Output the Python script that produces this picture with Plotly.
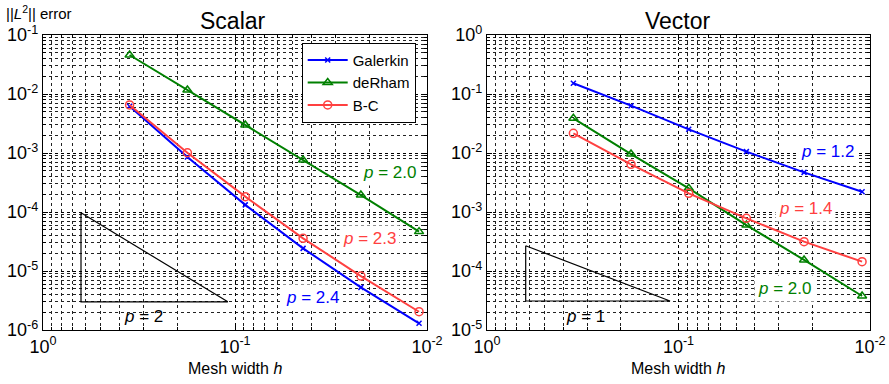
import plotly.graph_objects as go

# Mesh widths
h = [0.354, 0.177, 0.0884, 0.0442, 0.0221, 0.0110]

# Scalar errors
scalar_galerkin = [6.2e-3, 8.55e-4, 1.32e-4, 2.42e-5, 5.28e-6, 1.30e-6]
scalar_derham = [4.58e-2, 1.17e-2, 2.98e-3, 7.6e-4, 1.94e-4, 4.65e-5]
scalar_bc = [6.52e-3, 1.01e-3, 1.82e-4, 3.58e-5, 8.2e-6, 2.04e-6]

# Vector errors
vector_galerkin = [0.152, 0.0634, 0.0252, 0.01054, 4.7e-3, 2.21e-3]
vector_derham = [0.0387, 9.6e-3, 2.52e-3, 6.0e-4, 1.54e-4, 3.77e-5]
vector_bc = [0.0216, 6.43e-3, 2.07e-3, 7.8e-4, 3.14e-4, 1.44e-4]

# Slope triangles (x, y vertices)
tri_scalar_x = [0.634, 0.634, 0.109, 0.634]
tri_scalar_y = [9.7e-5, 3.0e-6, 3.0e-6, 9.7e-5]
tri_vector_x = [0.628, 0.628, 0.1107, 0.628]
tri_vector_y = [2.68e-4, 3.1e-5, 3.1e-5, 2.68e-4]

# Tick labels
x_tickvals = [1, 0.1, 0.01]
x_ticktext = ["10<sup>0</sup>", "10<sup>-1</sup>", "10<sup>-2</sup>"]
y1_tickvals = [1e-6, 1e-5, 1e-4, 1e-3, 1e-2, 1e-1]
y1_ticktext = ["10<sup>-6</sup>", "10<sup>-5</sup>", "10<sup>-4</sup>",
               "10<sup>-3</sup>", "10<sup>-2</sup>", "10<sup>-1</sup>"]
y2_tickvals = [1e-5, 1e-4, 1e-3, 1e-2, 1e-1, 1]
y2_ticktext = ["10<sup>-5</sup>", "10<sup>-4</sup>", "10<sup>-3</sup>",
               "10<sup>-2</sup>", "10<sup>-1</sup>", "10<sup>0</sup>"]

series_names = ["Galerkin", "deRham", "B-C"]
colors = ["#0000ff", "#008000", "#ff4040"]
symbols = ["x-thin", "triangle-up-open", "circle-open"]
msizes = [5, 8, 8]

FONT = "Liberation Sans, Arial, sans-serif"
W, H = 889, 384

fig = go.Figure()

scalar = [scalar_galerkin, scalar_derham, scalar_bc]
vector = [vector_galerkin, vector_derham, vector_bc]

for i in range(3):
    fig.add_trace(go.Scatter(
        x=h, y=scalar[i], mode="lines+markers", name=series_names[i],
        line=dict(color=colors[i], width=2),
        marker=dict(symbol=symbols[i], size=msizes[i], color=colors[i],
                    line=dict(color=colors[i], width=1.5)),
        xaxis="x", yaxis="y", showlegend=True))
for i in range(3):
    fig.add_trace(go.Scatter(
        x=h, y=vector[i], mode="lines+markers", name=series_names[i],
        line=dict(color=colors[i], width=2),
        marker=dict(symbol=symbols[i], size=msizes[i], color=colors[i],
                    line=dict(color=colors[i], width=1.5)),
        xaxis="x2", yaxis="y2", showlegend=False))

fig.add_trace(go.Scatter(x=tri_scalar_x, y=tri_scalar_y, mode="lines",
                         line=dict(color="black", width=1.2), showlegend=False,
                         xaxis="x", yaxis="y", hoverinfo="skip"))
fig.add_trace(go.Scatter(x=tri_vector_x, y=tri_vector_y, mode="lines",
                         line=dict(color="black", width=1.2), showlegend=False,
                         xaxis="x2", yaxis="y2", hoverinfo="skip"))

common = dict(
    type="log", automargin=False, tickmode="array",
    ticks="inside", ticklen=5, tickcolor="black", mirror="allticks",
    showline=True, linecolor="black", linewidth=1.2,
    showgrid=True, gridcolor="black", griddash="dot", gridwidth=0.8,
    minor=dict(dtick="D1", showgrid=True, gridcolor="#222", griddash="dot",
               gridwidth=0.6, ticks="inside", ticklen=3, tickcolor="black"),
    tickfont=dict(size=18, color="black", family=FONT),
    zeroline=False,
)

ydom = [54 / H, 349 / H]
fig.update_layout(
    width=W, height=H,
    margin=dict(l=0, r=0, t=0, b=0, autoexpand=False),
    paper_bgcolor="white", plot_bgcolor="white",
    font=dict(family=FONT, color="black"),
    xaxis=dict(common, domain=[43 / W, 427 / W], anchor="y", range=[0, -2],
               tickvals=x_tickvals, ticktext=x_ticktext),
    yaxis=dict(common, domain=ydom, anchor="x", range=[-6, -1],
               tickvals=y1_tickvals, ticktext=y1_ticktext),
    xaxis2=dict(common, domain=[487 / W, 870 / W], anchor="y2", range=[0, -2],
                tickvals=x_tickvals, ticktext=x_ticktext),
    yaxis2=dict(common, domain=ydom, anchor="x2", range=[-5, 0],
                tickvals=y2_tickvals, ticktext=y2_ticktext),
    legend=dict(x=415.7 / W, y=1 - 42.7 / H, xanchor="right", yanchor="top",
                bgcolor="white", bordercolor="black", borderwidth=1,
                font=dict(size=15, color="black", family=FONT),
                tracegroupgap=0, itemwidth=40),
)

def txt(text, xpix, ypix, size, color="black", xanchor="center", bg=None):
    return dict(text=text, x=xpix / W, y=1 - ypix / H, xref="paper", yref="paper",
                xanchor=xanchor, yanchor="middle", showarrow=False,
                font=dict(size=size, family=FONT, color=color),
                bgcolor=bg, borderpad=3 if bg else 1)

annotations = [
    txt("Scalar", 233, 21, 23),
    txt("Vector", 678, 21, 23),
    txt("||<i>L</i><sup>2</sup>|| error", 4, 13, 15, xanchor="left"),
    txt("Mesh width <i>h</i>", 235, 368, 16),
    txt("Mesh width <i>h</i>", 678, 368, 16),
    txt("<i>p</i> = 2.0", 389, 172, 17, "#008000", bg="white"),
    txt("<i>p</i> = 2.3", 369, 238, 17, "#ff4040", bg="white"),
    txt("<i>p</i> = 2.4", 312, 297, 17, "#0000ff", bg="white"),
    txt("<i>p</i> = 2", 143, 316, 17),
    txt("<i>p</i> = 1.2", 827, 151, 17, "#0000ff", bg="white"),
    txt("<i>p</i> = 1.4", 805, 208, 17, "#ff4040", bg="white"),
    txt("<i>p</i> = 2.0", 784, 288, 17, "#008000", bg="white"),
    txt("<i>p</i> = 1", 585, 316, 17),
]
fig.update_layout(annotations=annotations)

fig.write_html("out.html")
